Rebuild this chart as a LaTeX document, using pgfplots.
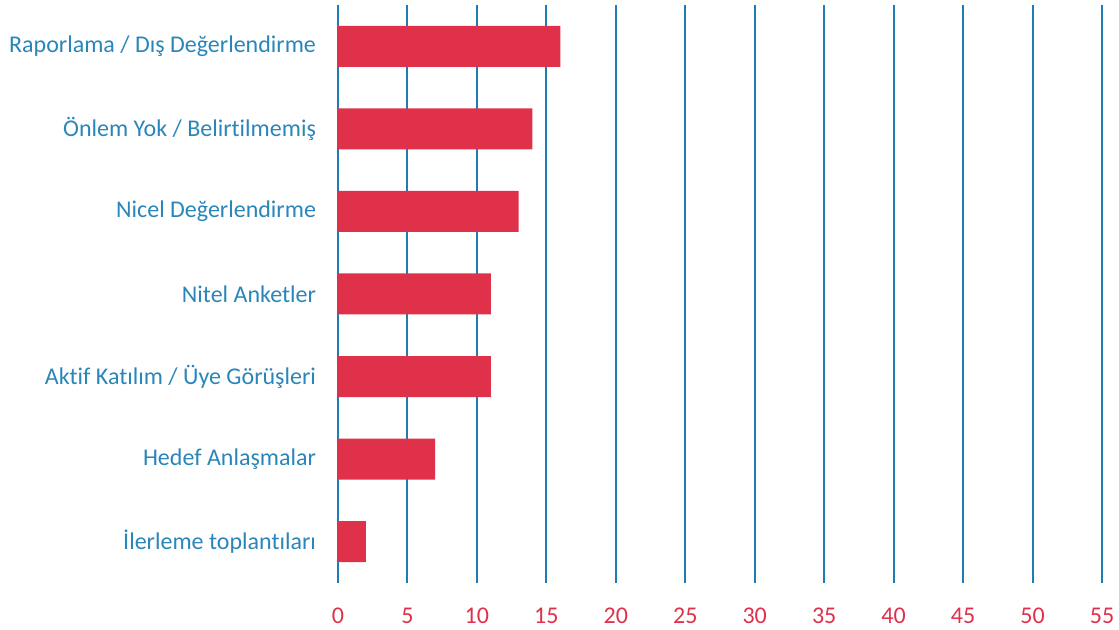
\documentclass[border=0pt]{standalone}
\usepackage{pgfplots}
\pgfplotsset{compat=1.18}
\usepackage{fontspec}
\setmainfont{Carlito}[Ligatures=NoCommon]
\definecolor{barred}{HTML}{E0314B}
\definecolor{gridblue}{HTML}{1F7DB4}
\definecolor{labblue}{HTML}{2A86B9}
\begin{document}
\begin{tikzpicture}
\begin{axis}[
  scale only axis,
  width=573pt, height=433.5pt,
  xmin=0, xmax=55, ymin=-0.5, ymax=6.5,
  xtick={0,5,...,55},
  ytick={0,1,2,3,4,5,6},
  yticklabels={İlerleme toplantıları, Hedef Anlaşmalar, Aktif Katılım / Üye Görüşleri, Nitel Anketler, Nicel Değerlendirme, Önlem Yok / Belirtilmemiş, Raporlama / Dış Değerlendirme},
  axis line style={draw=none},
  major tick length=0pt,
  xmajorgrids,
  major grid style={draw=gridblue, line width=1.5pt},
  /pgf/number format/assume math mode=true,
  xticklabel style={font=\fontsize{18}{20}\selectfont, text=barred, anchor=north, text height=12pt, text depth=0pt, yshift=-15pt},
  yticklabel style={font=\fontsize{18}{20}\selectfont, text=labblue, xshift=-13pt},
  xbar, bar width=30.75pt,
  clip=false,
]
\addplot[fill=barred, draw=none] coordinates {
  (2,0) (7,1) (11,2) (11,3) (13,4) (14,5) (16,6)
};
\end{axis}
\path[use as bounding box] ([xshift=-253.5pt,yshift=-35.25pt]current axis.south west) rectangle ([xshift=12.75pt,yshift=3.75pt]current axis.north east);
\end{tikzpicture}
\end{document}
